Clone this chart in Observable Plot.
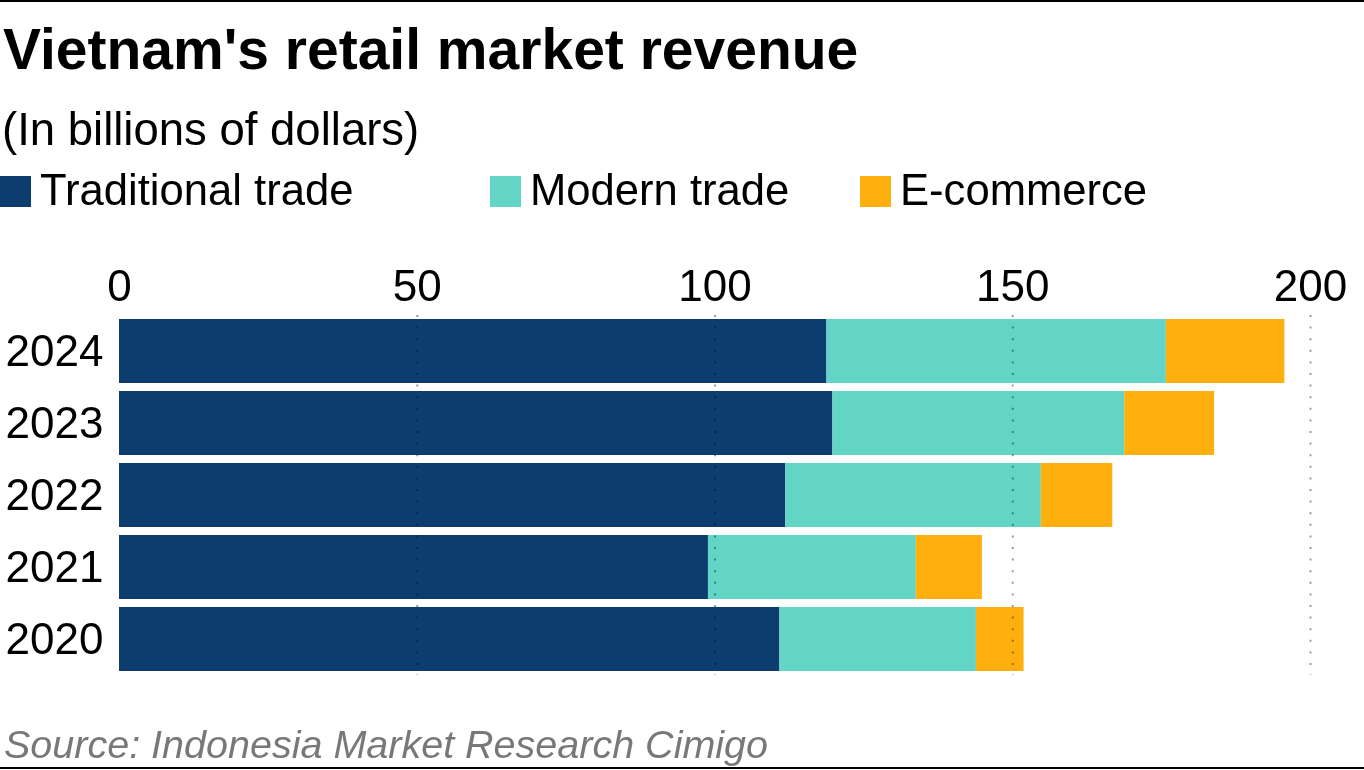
<!DOCTYPE html>
<html><head><meta charset="utf-8">
<script src="https://cdn.jsdelivr.net/npm/d3@7"></script>
<script src="https://cdn.jsdelivr.net/npm/@observablehq/plot@0.6"></script>
<style>
body{margin:0;background:#fff;font-family:"Liberation Sans",Arial,sans-serif;}
#wrap{position:relative;width:1364px;height:770px;overflow:hidden;background:#fff;}
.t{position:absolute;white-space:nowrap;line-height:1;}
#title{left:3px;top:21px;font-size:57px;font-weight:bold;color:#000;}
#sub{left:2px;top:107px;font-size:45.5px;color:#000;}
#source{left:4px;top:725px;font-size:39.5px;font-style:italic;color:#787878;}
.sw{position:absolute;width:31px;height:31px;top:176px;}
.lt{position:absolute;top:169px;font-size:43.6px;line-height:1;white-space:nowrap;color:#000;}
#topline{position:absolute;left:0;top:0;width:1364px;height:2px;background:#000;}
#botline{position:absolute;left:0;top:767px;width:1364px;height:2px;background:#000;}
#chart{position:absolute;left:0;top:230px;}
</style></head><body>
<div id="wrap">
<div id="topline"></div>
<div class="t" id="title">Vietnam's retail market revenue</div>
<div class="t" id="sub">(In billions of dollars)</div>
<div id="legend"></div>
<div id="chart"></div>
<div class="t" id="source">Source: Indonesia Market Research Cimigo</div>
<div id="botline"></div>
</div>
<script>
const years = ["2024", "2023", "2022", "2021", "2020"];
const categories = ["Traditional trade", "Modern trade", "E-commerce"];
const colors = ["#0d3d6f", "#62d5c6", "#ffb00f"];
const traditional = [118.8, 119.8, 111.9, 98.9, 110.9];
const modern = [57.0, 49.0, 42.9, 34.9, 33.0];
const ecommerce = [19.9, 15.1, 12.0, 11.1, 8.0];
const xTicks = [0, 50, 100, 150, 200];

const series = [traditional, modern, ecommerce];
const data = [];
categories.forEach((c, ci) => {
  years.forEach((y, yi) => data.push({year: y, category: c, value: series[ci][yi]}));
});

// legend
const legendX = [0, 490, 860];
const leg = document.getElementById("legend");
categories.forEach((c, i) => {
  const sw = document.createElement("div");
  sw.className = "sw"; sw.style.left = legendX[i] + "px"; sw.style.background = colors[i];
  leg.appendChild(sw);
  const t = document.createElement("div");
  t.className = "lt"; t.style.left = (legendX[i] + 40) + "px"; t.textContent = c;
  leg.appendChild(t);
});

const chart = Plot.plot({
  width: 1364,
  height: 470,
  marginTop: 85,
  marginBottom: 25,
  marginLeft: 119,
  marginRight: 54,
  style: {fontFamily: '"Liberation Sans", Arial, sans-serif', fontSize: "44px", color: "#000", background: "transparent"},
  x: {domain: [0, 200], axis: "top", ticks: xTicks, tickSize: 0, tickPadding: 15, label: null, fontSize: 45},
  y: {domain: years, paddingInner: 0.111, paddingOuter: 0.0555, tickSize: 0, tickPadding: 16, label: null},
  color: {domain: categories, range: colors},
  marks: [
    Plot.barX(data, {x: "value", y: "year", fill: "category", order: categories}),
    Plot.gridX(xTicks.slice(1), {stroke: "#9c9c9c", strokeOpacity: 1, strokeWidth: 2, strokeDasharray: "2,9.6", mixBlendMode: "multiply"}),
    Plot.ruleX([0], {stroke: "#444", strokeWidth: 1, y1: years[0], y2: years[years.length - 1], insetTop: -32, insetBottom: -32})
  ]
});
document.getElementById("chart").appendChild(chart);
</script>
</body></html>
